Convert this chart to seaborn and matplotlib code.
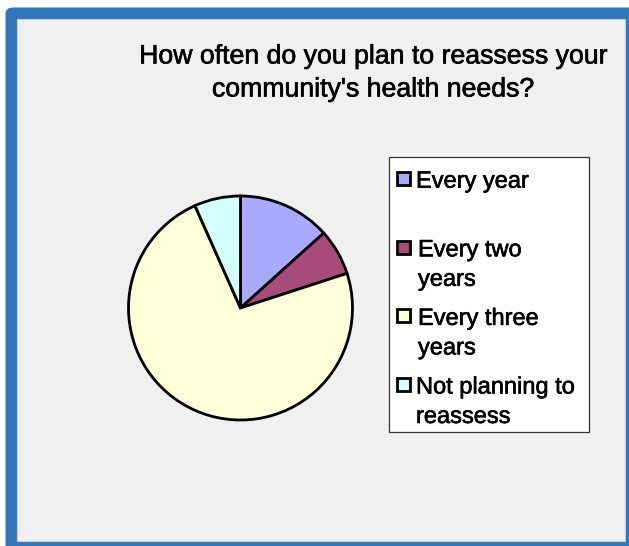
import matplotlib
matplotlib.use("Agg")
import matplotlib.pyplot as plt
import matplotlib.patheffects as pe
from matplotlib.patches import FancyBboxPatch, Rectangle
import seaborn as sns

# Survey responses (number of respondents per answer)
categories = ["Every year", "Every two\nyears", "Every three\nyears", "Not planning to\nreassess"]
counts = [2, 1, 11, 1]
colors = ["#A9AAFF", "#A84D7B", "#FFFFDA", "#D4FFFF"]
title_lines = ["How often do you plan to reassess your", "community's health needs?"]

sns.set_theme(style="white")
plt.rcParams["font.family"] = ["Liberation Sans", "DejaVu Sans"]

W, H = 629, 546
fig = plt.figure(figsize=(W / 100, H / 100), dpi=100)
fig.patch.set_facecolor("white")

# slightly heavier text strokes
heavy = [pe.withStroke(linewidth=0.45, foreground="black")]


def fx(x):
    return x / W


def fy(y):
    return 1 - y / H


# Blue chart frame with a light-grey plot area
frame = FancyBboxPatch((fx(5.5), fy(556)), fx(640) - fx(5.5), fy(7.5) - fy(556),
                       boxstyle="round,pad=0,rounding_size=0.012",
                       transform=fig.transFigure, facecolor="#3375B9",
                       edgecolor="none", zorder=0)
fig.patches.append(frame)
inner = Rectangle((fx(16.8), fy(541)), fx(625) - fx(16.8), fy(19) - fy(541),
                  transform=fig.transFigure, facecolor="#F0F0F0",
                  edgecolor="#BFCCDD", linewidth=0.8, zorder=1)
fig.patches.append(inner)

# Title, centred over the right part of the frame
title_baselines = [63.5, 96.5]
for line, yb in zip(title_lines, title_baselines):
    fig.text(fx(373), fy(yb), line, ha="center", va="baseline",
             fontsize=19.2, color="black", zorder=5, path_effects=heavy)

# Pie chart
cx, cy, r = 240.5, 308, 112
ax = fig.add_axes([fx(cx - r), fy(cy + r), fx(2 * r), (2 * r) / H])
ax.set_zorder(2)
ax.set_facecolor("none")
wedges, _ = ax.pie(counts, colors=colors, startangle=90, counterclock=False,
                   wedgeprops=dict(edgecolor="black", linewidth=2.0))
for w in wedges:
    w.set_clip_on(False)
ax.set_xlim(-1, 1)
ax.set_ylim(-1, 1)
ax.set_aspect("auto")
ax.axis("off")

# Legend box
box = Rectangle((fx(388.5), fy(431.5)), fx(589) - fx(388.5), fy(157) - fy(431.5),
                transform=fig.transFigure, facecolor="white",
                edgecolor="#333333", linewidth=0.9, zorder=3)
fig.patches.append(box)

first_baseline = 187.7
entry_pitch = 68.6
line_pitch = 29.5
for i, (label, col) in enumerate(zip(categories, colors)):
    yb = first_baseline + i * entry_pitch
    sq = Rectangle((fx(397.5), fy(yb - 2.5)), fx(13), 13 / H,
                   transform=fig.transFigure, facecolor=col,
                   edgecolor="black", linewidth=2.0, zorder=4)
    fig.patches.append(sq)
    lines = label.split("\n")
    x0 = 416 if len(lines) == 1 or label.startswith("Not") else 418
    for j, line in enumerate(lines):
        fig.text(fx(x0), fy(yb + j * line_pitch), line, ha="left",
                 va="baseline", fontsize=17, color="black", zorder=5,
                 path_effects=heavy)

fig.savefig("out.png", dpi=100)
